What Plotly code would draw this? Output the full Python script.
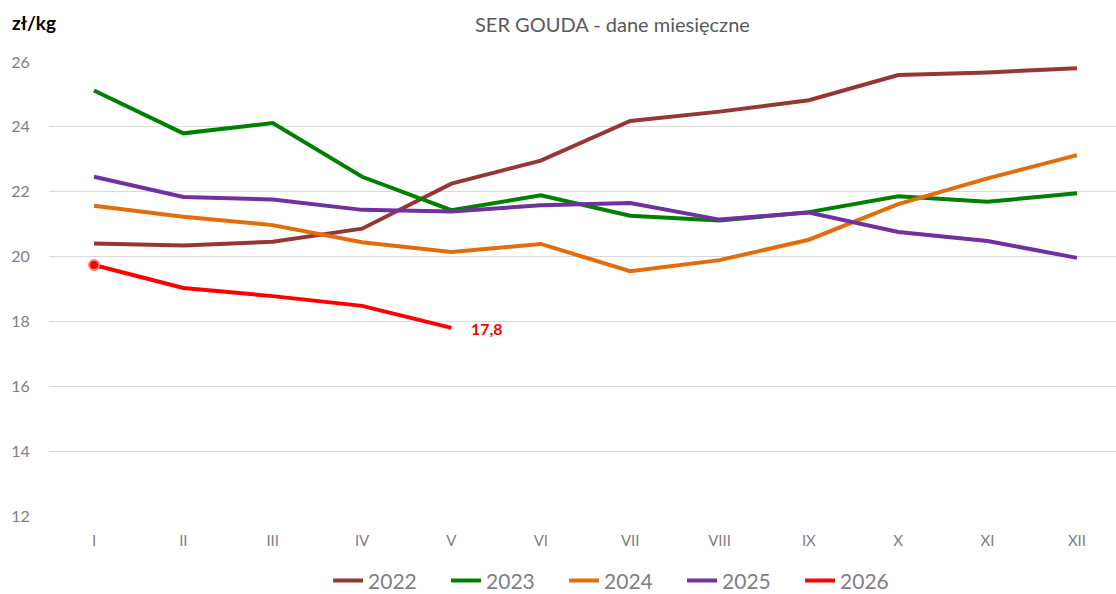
import plotly.graph_objects as go

months = ["I", "II", "III", "IV", "V", "VI", "VII", "VIII", "IX", "X", "XI", "XII"]
y2022 = [20.40, 20.34, 20.46, 20.86, 22.25, 22.96, 24.18, 24.47, 24.82, 25.60, 25.68, 25.81]
y2023 = [25.12, 23.80, 24.12, 22.46, 21.43, 21.89, 21.26, 21.11, 21.37, 21.86, 21.69, 21.95]
y2024 = [21.57, 21.23, 20.97, 20.44, 20.14, 20.39, 19.55, 19.89, 20.52, 21.62, 22.41, 23.13]
y2025 = [22.46, 21.84, 21.76, 21.44, 21.39, 21.58, 21.65, 21.14, 21.36, 20.76, 20.48, 19.96]
y2026 = [19.74, 19.03, 18.78, 18.48, 17.80]
last_label = "17,8"

series = [
    ("2022", y2022, "#953735"),
    ("2023", y2023, "#008000"),
    ("2024", y2024, "#E46C0A"),
    ("2025", y2025, "#7030A0"),
    ("2026", y2026, "#FF0000"),
]

xs = list(range(len(months)))
fig = go.Figure()
for name, vals, col in series:
    fig.add_trace(go.Scatter(
        x=xs[:len(vals)], y=vals, name=name, mode="lines",
        line=dict(color=col, width=4),
    ))

# marker at the first point of 2026
fig.add_trace(go.Scatter(
    x=[xs[0]], y=[y2026[0]], mode="markers", showlegend=False,
    marker=dict(size=10, color="#FF0000", line=dict(color="#FF8080", width=2)),
    hoverinfo="skip",
))

fig.add_annotation(
    x=xs[len(y2026) - 1], y=y2026[-1], text="<b>" + last_label + "</b>",
    showarrow=False, xanchor="left", xshift=18, yshift=-1,
    font=dict(color="#FF0000", size=16, family="Lato"),
)

fig.add_annotation(
    xref="paper", yref="paper", x=0.528, y=1, yshift=38, yanchor="middle",
    text="SER GOUDA - dane miesięczne", showarrow=False,
    font=dict(color="#595959", size=20, family="Lato"),
)
fig.add_annotation(
    xref="paper", yref="paper", x=-0.037, xanchor="left", y=1, yshift=40, yanchor="middle",
    text="<b>zł/kg</b>", showarrow=False,
    font=dict(color="#000000", size=19, family="Lato"),
)

fig.update_layout(
    width=1116, height=594,
    margin=dict(l=49, r=0, t=62, b=78, autoexpand=False),
    paper_bgcolor="white", plot_bgcolor="white",
    font=dict(family="Lato", color="#595959"),
    showlegend=True,
    legend=dict(
        orientation="h", x=0.538, xanchor="center", y=-0.143, yanchor="middle",
        font=dict(size=21, color="#7F7F7F"), entrywidth=73, entrywidthmode="pixels",
        itemwidth=30,
    ),
    xaxis=dict(
        range=[-0.5036, 11.437], tickvals=xs, ticktext=months, automargin=False,
        showgrid=False, zeroline=False, showline=False,
        ticks="outside", ticklen=11, tickcolor="rgba(0,0,0,0)",
        tickfont=dict(size=15, color="#7F7F7F"),
    ),
    yaxis=dict(
        range=[12, 26], dtick=2, showgrid=True, gridcolor="#D9D9D9", gridwidth=1,
        zeroline=False, showline=False, automargin=False,
        ticks="outside", ticklen=15, tickcolor="rgba(0,0,0,0)",
        tickfont=dict(size=16, color="#7F7F7F"),
    ),
)

fig.write_html(
    "out.html",
    config={"displayModeBar": False},
    post_script="document.body.style.margin='0px';document.body.style.overflow='hidden';",
)
